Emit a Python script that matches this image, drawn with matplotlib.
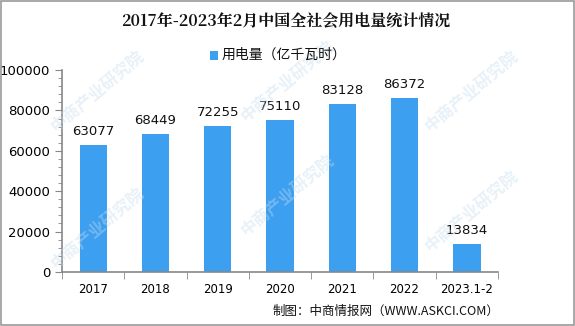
import matplotlib
matplotlib.use("Agg")
import matplotlib.pyplot as plt
from matplotlib.ticker import MultipleLocator
from matplotlib.patches import Rectangle

plt.rcParams['font.family'] = ['Noto Sans CJK SC', 'DejaVu Sans']

categories = ["2017", "2018", "2019", "2020", "2021", "2022", "2023.1-2"]
consumption = [63077, 68449, 72255, 75110, 83128, 86372, 13834]

title = "2017年-2023年2月中国全社会用电量统计情况"
series_name = "用电量（亿千瓦时）"
source = "制图：中商情报网（WWW.ASKCI.COM）"

bar_color = "#3d9ff0"
axis_color = "#888888"

fig = plt.figure(figsize=(5.75, 3.26), dpi=100)
ax = fig.add_axes([0.108, 0.166, 0.758, 0.619])
ax.patch.set_alpha(0)

x = range(len(categories))
ax.bar(x, consumption, width=0.44, color=bar_color, zorder=2)
for xi, v in zip(x, consumption):
    ax.text(xi, v + 3500, f"{v}", ha="center", va="bottom", fontsize=9.5,
            family="DejaVu Sans", color="#111111")

ax.set_xlim(-0.5, len(categories) - 0.5)
ax.set_ylim(0, 100000)
ax.set_xticks(list(x))
ax.set_xticklabels(categories, fontsize=8.5, family="DejaVu Sans")
ax.set_xticks([i + 0.5 for i in range(-1, len(categories))], minor=True)
ax.tick_params(axis="x", which="major", length=0, pad=8)
ax.tick_params(axis="x", which="minor", length=5, color=axis_color)

ax.yaxis.set_major_locator(MultipleLocator(20000))
ax.yaxis.set_minor_locator(MultipleLocator(4000))
ax.tick_params(axis="y", which="major", length=5, color=axis_color, labelsize=9.5)
ax.tick_params(axis="y", which="minor", length=3, color=axis_color)
for lbl in ax.get_yticklabels():
    lbl.set_family("DejaVu Sans")

for side in ("top", "right"):
    ax.spines[side].set_visible(False)
for side in ("left", "bottom"):
    ax.spines[side].set_color(axis_color)
    ax.spines[side].set_linewidth(1.2)

# faint diagonal watermark
for (wx, wy) in [(0.17, 0.72), (0.5, 0.75), (0.82, 0.72),
                 (0.17, 0.3), (0.5, 0.4), (0.82, 0.35)]:
    fig.text(wx, wy, "中商产业研究院", rotation=40, fontsize=12, color="#c5dcef",
             alpha=0.4, ha="center", va="center", fontweight="bold", zorder=0)

fig.text(0.497, 0.932, title, ha="center", va="center", fontsize=11.5,
         fontweight="bold", color="#111111",
         family=["Noto Serif CJK SC", "Noto Sans CJK SC", "DejaVu Serif"])

# legend
fig.patches.append(Rectangle((0.365, 0.817), 0.014, 0.026, transform=fig.transFigure,
                             facecolor=bar_color, edgecolor="none"))
fig.text(0.385, 0.832, series_name, ha="left", va="center", fontsize=10, color="#111111")

fig.text(0.868, 0.044, source, ha="right", va="center", fontsize=9, color="#111111")

# outer frame
fig.patches.append(Rectangle((0.001, 0.002), 0.997, 0.995, transform=fig.transFigure,
                             facecolor="none", edgecolor="#999999", linewidth=1.2))

fig.savefig("out.png", dpi=100)
